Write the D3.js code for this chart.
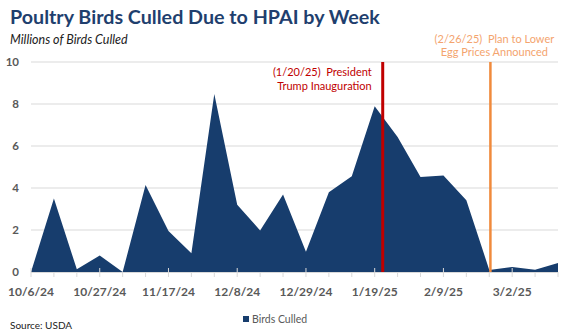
<!DOCTYPE html>
<html><head><meta charset="utf-8">
<script src="https://cdn.jsdelivr.net/npm/d3@7"></script>
<style>body{margin:0;background:#fff}svg{display:block;font-family:Lato,"Open Sans",sans-serif}text{white-space:pre}</style>
</head><body><svg id="c" width="585" height="335"></svg>
<script>
const weeks = ["10/6/24","10/13/24","10/20/24","10/27/24","11/3/24","11/10/24","11/17/24","11/24/24","12/1/24","12/8/24","12/15/24","12/22/24","12/29/24","1/5/25","1/12/25","1/19/25","1/26/25","2/2/25","2/9/25","2/16/25","2/23/25","3/2/25","3/9/25","3/16/25"];
const culled = [0,3.5,0.13,0.79,0,4.14,1.95,0.89,8.48,3.2,1.98,3.69,0.97,3.8,4.56,7.89,6.43,4.52,4.6,3.42,0.1,0.24,0.11,0.43];
const yTicks = [0,2,4,6,8,10];
const xLabels = ["10/6/24","10/27/24","11/17/24","12/8/24","12/29/24","1/19/25","2/9/25","3/2/25"];
const events = [
  {pos:15.35, lines:["(1/20/25)  President","Trump Inauguration"], color:"#c00000", text:"#c00000"},
  {pos:20.05, lines:["(2/26/25)  Plan to Lower","Egg Prices Announced"], color:"#f08a3c", text:"#f4a46e"}
];

const svg = d3.select("#c");
const x = d3.scaleLinear().domain([0, weeks.length-1]).range([31, 558]);
const y = d3.scaleLinear().domain([0,10]).range([272, 62]);

svg.append("text").attr("x",10).attr("y",24).attr("font-size",19.7).attr("font-weight",700)
  .attr("fill","#1f3f6e").text("Poultry Birds Culled Due to HPAI by Week");
svg.append("text").attr("x",10).attr("y",44).attr("font-size",12.5).attr("font-style","italic")
  .attr("fill","#222").text("Millions of Birds Culled");

// grid
svg.append("g").selectAll("line").data(yTicks.filter(d=>d>0)).join("line")
  .attr("x1",x(0)).attr("x2",x(weeks.length-1)).attr("y1",d=>y(d)).attr("y2",d=>y(d))
  .attr("stroke","#d9d9d9").attr("stroke-width",1);
svg.append("g").selectAll("text").data(yTicks).join("text")
  .attr("x",19).attr("y",d=>y(d)+4).attr("text-anchor","end").attr("font-size",11.5)
  .attr("font-weight",700).attr("fill","#595959").text(d=>d);

// area
const area = d3.area().x((d,i)=>x(i)).y0(y(0)).y1(d=>y(d));
svg.append("path").datum(culled).attr("d",area).attr("fill","#173d6d");

// axis
svg.append("line").attr("x1",x(0)).attr("x2",x(weeks.length-1)).attr("y1",y(0)+0.5).attr("y2",y(0)+0.5)
  .attr("stroke","#d9d9d9");
svg.append("g").selectAll("line").data(weeks).join("line")
  .attr("x1",(d,i)=>x(i)).attr("x2",(d,i)=>x(i))
  .attr("y1",d=>xLabels.includes(d)?268:272).attr("y2",277)
  .attr("stroke","#d9d9d9");
svg.append("g").selectAll("text").data(xLabels).join("text")
  .attr("x",d=>x(weeks.indexOf(d))).attr("y",296).attr("text-anchor","middle")
  .attr("font-size",12).attr("font-weight",700).attr("fill","#595959").text(d=>d);

// events
events.forEach((e,k)=>{
  svg.append("line").attr("x1",x(e.pos)).attr("x2",x(e.pos)).attr("y1",y(10)).attr("y2",y(0))
    .attr("stroke",e.color).attr("stroke-width",k===0?3:2.5);
});
const e0 = events[0];
e0.lines.forEach((t,i)=>svg.append("text").attr("x",x(e0.pos)-11).attr("y",76+i*14)
  .attr("text-anchor","end").attr("font-size",11).attr("fill",e0.text).text(t));
const e1 = events[1];
e1.lines.forEach((t,i)=>svg.append("text").attr("x",x(e1.pos)+4).attr("y",43+i*13)
  .attr("text-anchor","middle").attr("font-size",11).attr("fill",e1.text).text(t));

// legend
svg.append("rect").attr("x",243).attr("y",316).attr("width",6).attr("height",6).attr("fill","#173d6d");
svg.append("text").attr("x",252).attr("y",322.5).attr("font-size",10.5).attr("fill","#595959").text("Birds Culled");
svg.append("text").attr("x",10).attr("y",329).attr("font-size",10).attr("fill","#222").text("Source: USDA");
</script></body></html>
